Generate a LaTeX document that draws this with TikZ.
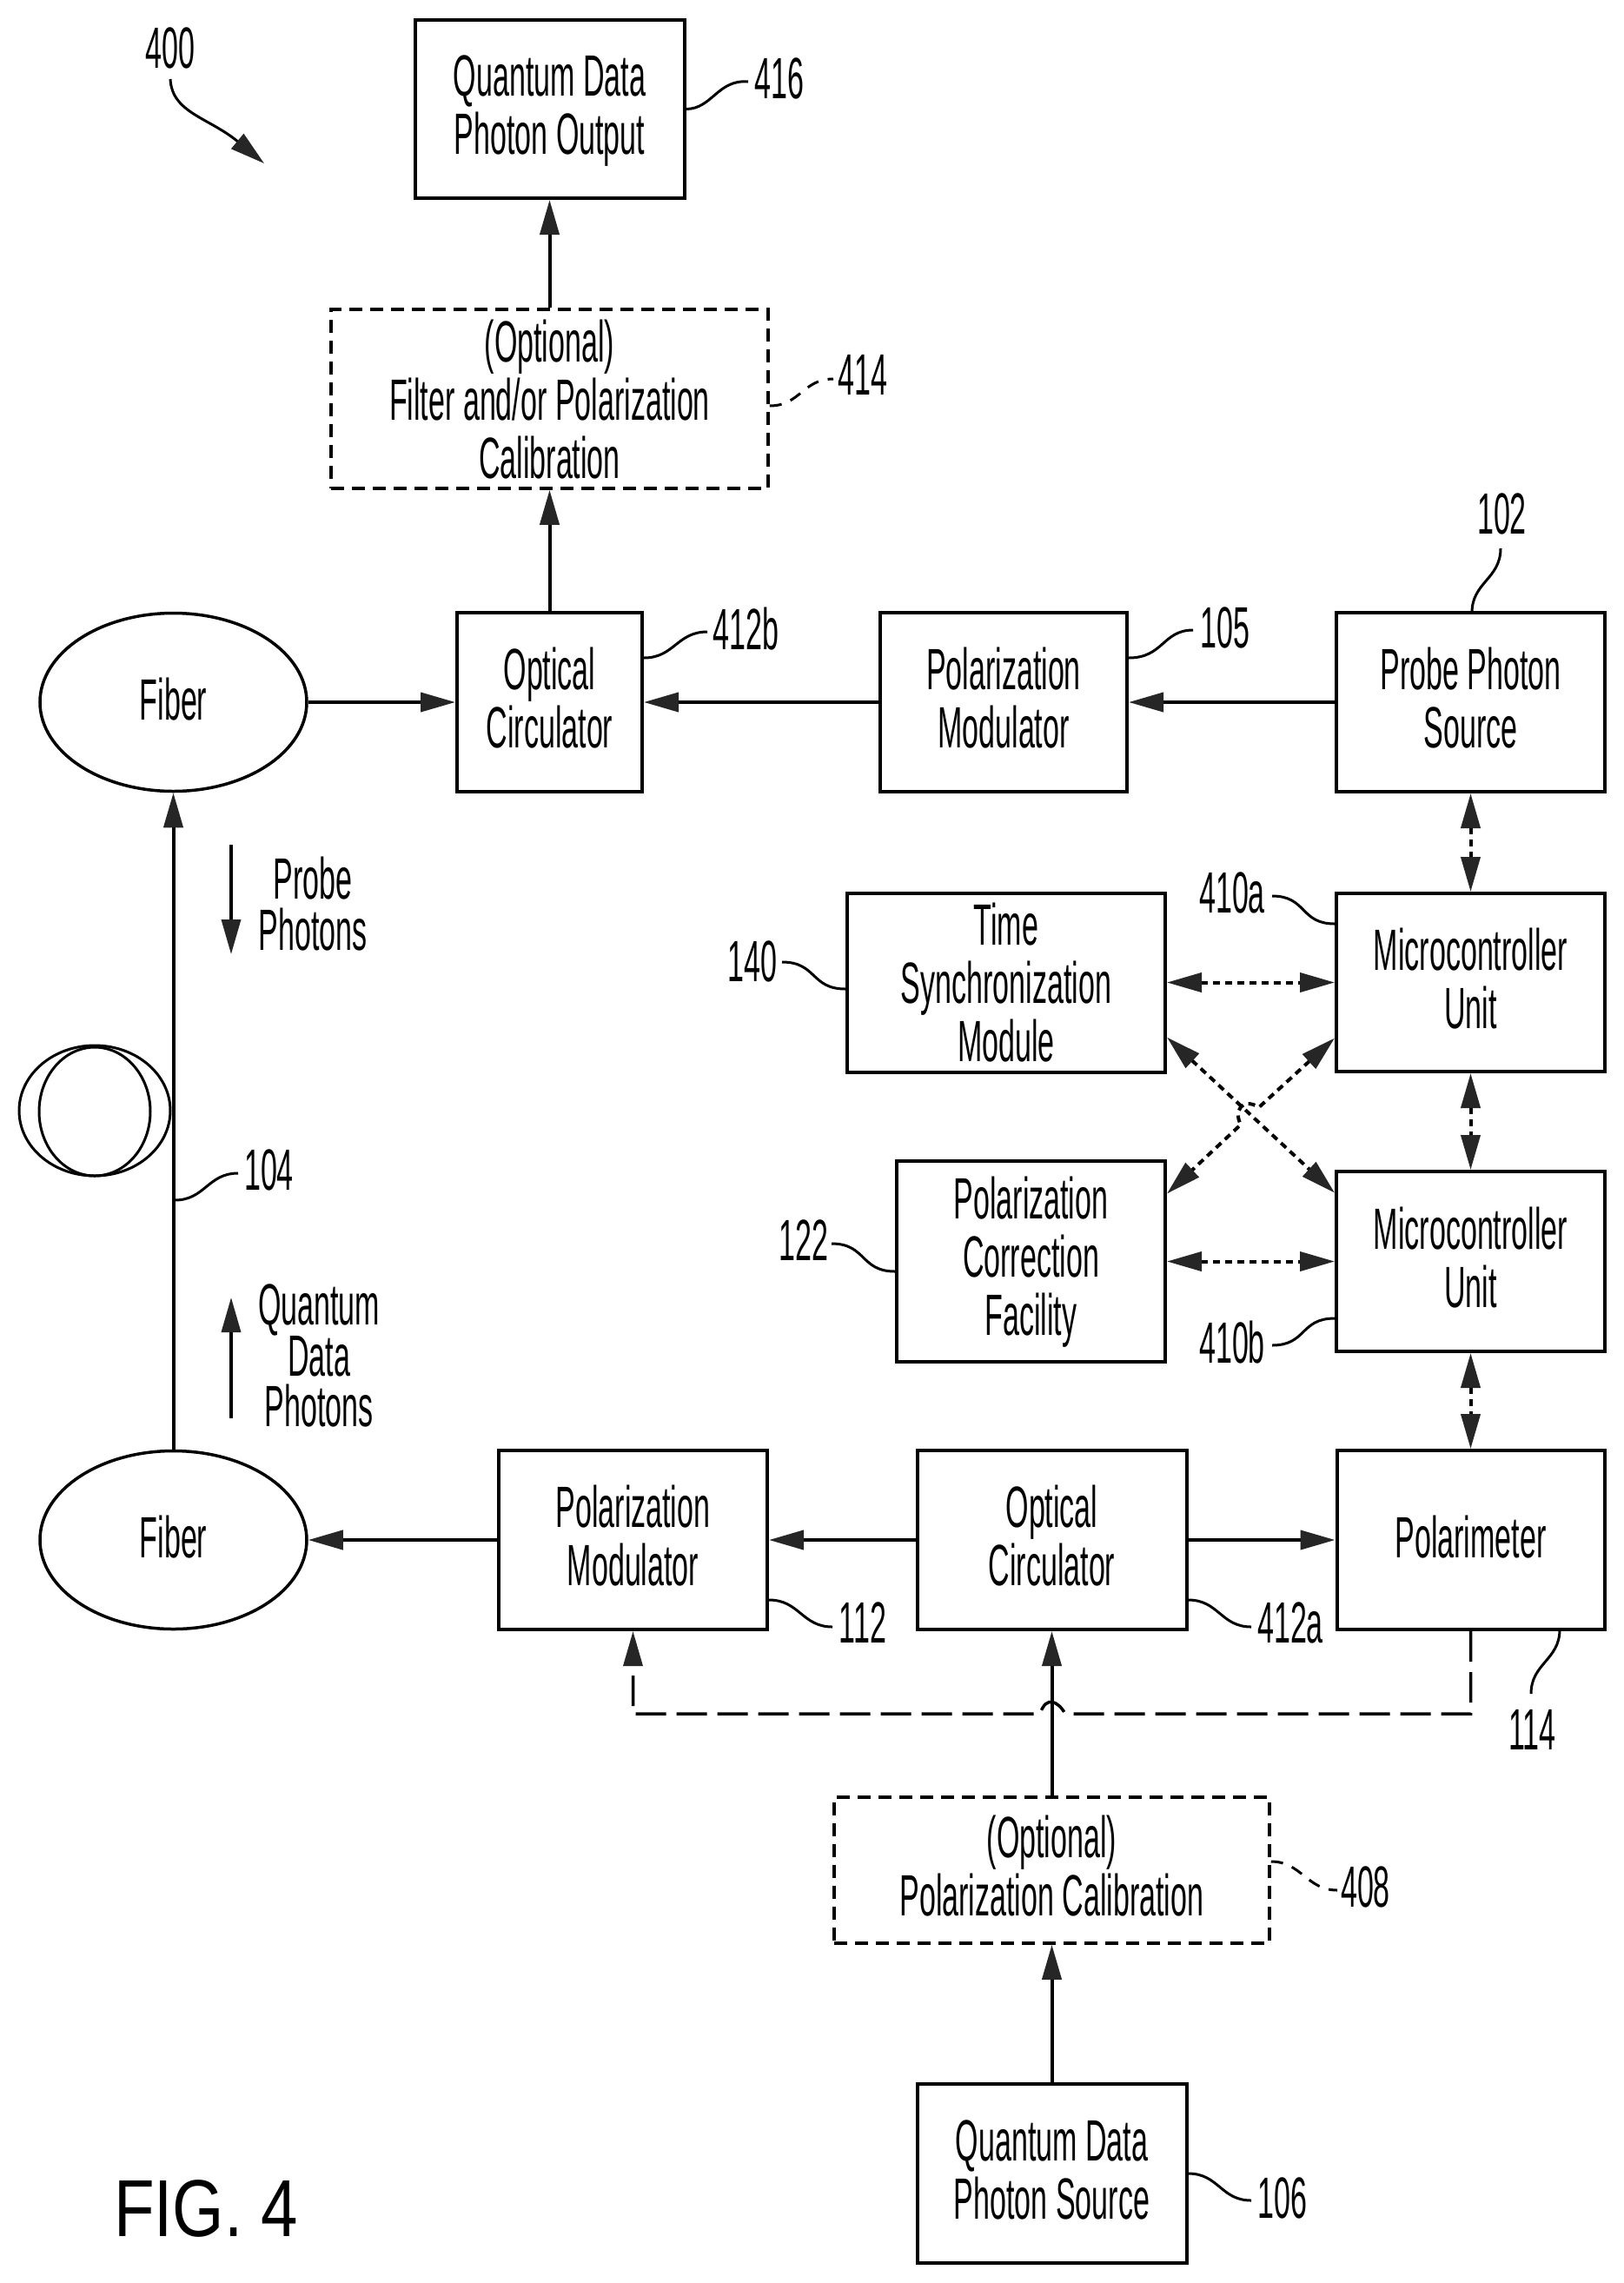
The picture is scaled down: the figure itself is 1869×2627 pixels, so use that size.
\documentclass[tikz,border=0pt]{standalone}
\usepackage{fontspec}
\usetikzlibrary{arrows.meta,shapes.geometric,calc}
\setmainfont{Liberation Sans}
\newfontfamily\condfont[FakeStretch=0.508]{Liberation Sans}
\newfontfamily\figfont[FakeStretch=0.82]{Liberation Sans}
\newcommand{\topst}{\rule{0pt}{50pt}}
\newcommand{\topsx}{\rule{0pt}{60pt}}
\newcommand{\botst}{\rule[-12pt]{0pt}{12pt}}
\newcommand{\onest}{\rule[-14pt]{0pt}{68pt}}
\tikzset{
  txt/.style={font=\fontsize{67}{67}\selectfont\condfont,align=center,inner sep=0pt},
  box/.style={txt,draw,rectangle,line width=4pt,inner sep=0pt},
  dbox/.style={box,line width=3.5pt,dash pattern=on 15pt off 9pt},
  fib/.style={txt,draw,ellipse,line width=3.5pt,minimum width=307pt,minimum height=205pt},
  lbl/.style={txt},
  tipa/.tip={Triangle[length=40pt,width=22pt,fill=black!85,color=black!85]},
  arr/.style={-tipa,line width=4pt},
  dbl/.style={tipa-tipa,line width=4pt,dash pattern=on 8pt off 6pt},
  fb/.style={-tipa,line width=3.5pt,dash pattern=on 35pt off 12pt},
  lead/.style={line width=3pt},
  dlead/.style={line width=3pt,dash pattern=on 14pt off 11pt},
  coil/.style={line width=3pt}
}
\begin{document}
\begin{tikzpicture}[x=1pt,y=-1pt]
\path[fill=white,use as bounding box] (0,0) rectangle (1869,2627);

% boxes
\node[box,minimum width=310pt,minimum height=205pt] (qout) at (632.5,125.5) {\topst Quantum Data\\Photon Output\botst};
\node[dbox,minimum width=503pt,minimum height=206pt] (filt) at (632.5,459) {\topsx (Optional)\\Filter and/or Polarization\\Calibration\botst};
\node[box,minimum width=213pt,minimum height=206pt] (circb) at (632.5,808) {\topst Optical\\Circulator\botst};
\node[box,minimum width=284pt,minimum height=206pt] (modt) at (1155,808) {\topst Polarization\\Modulator\botst};
\node[box,minimum width=309pt,minimum height=206pt] (probe) at (1692.5,808) {\topst Probe Photon\\Source\botst};
\node[fib] (fibt) at (199.5,808) {\onest Fiber};
\node[box,minimum width=366pt,minimum height=205pt] (time) at (1158,1130.5) {\topsx Time\\Synchronization\\Module\botst};
\node[box,minimum width=309pt,minimum height=205pt] (mcua) at (1692.5,1130.5) {\topst Microcontroller\\Unit\botst};
\node[box,minimum width=309pt,minimum height=231pt] (pcf) at (1186.5,1451.5) {\topst Polarization\\Correction\\Facility\botst};
\node[box,minimum width=309pt,minimum height=207pt] (mcub) at (1692.5,1451.5) {\topst Microcontroller\\Unit\botst};
\node[fib] (fibl) at (199.5,1772) {\onest Fiber};
\node[box,minimum width=309pt,minimum height=206pt] (modl) at (728.5,1772) {\topst Polarization\\Modulator\botst};
\node[box,minimum width=310pt,minimum height=206pt] (circa) at (1210.5,1772) {\topst Optical\\Circulator\botst};
\node[box,minimum width=308pt,minimum height=206pt] (polm) at (1692.5,1772) {\onest Polarimeter};
\node[dbox,minimum width=501pt,minimum height=168pt] (pcal) at (1210.5,2152) {\topst (Optional)\\Polarization Calibration\botst};
\node[box,minimum width=310pt,minimum height=206pt] (qsrc) at (1210.5,2501) {\topst Quantum Data\\Photon Source\botst};

% coil
\node[coil,draw,ellipse,inner sep=0pt,minimum width=174pt,minimum height=150pt] (coilo) at (109,1278) {};
\node[coil,draw,ellipse,inner sep=0pt,minimum width=128pt,minimum height=148pt] (coili) at (109,1279) {};

% solid connectors
\draw[arr] (filt.north) -- (qout.south);
\draw[arr] (circb.north) -- (filt.south);
\draw[arr] (fibt.east) -- (circb.west);
\draw[arr] (modt.west) -- (circb.east);
\draw[arr] (probe.west) -- (modt.east);
\draw[arr] (fibl.north) -- (fibt.south);
\draw[arr] (modl.west) -- (fibl.east);
\draw[arr] (circa.west) -- (modl.east);
\draw[arr] (circa.east) -- (polm.west);
\draw[arr] (pcal.north) -- (circa.south);
\draw[arr] (qsrc.north) -- (pcal.south);

% dashed double arrows
\draw[dbl] (probe.south) -- (mcua.north);
\draw[dbl] (mcua.south) -- (mcub.north);
\draw[dbl] (mcub.south) -- (polm.north);
\draw[dbl] (time.east) -- (mcua.west);
\draw[dbl] (pcf.east) -- (mcub.west);
\draw[dbl] ([yshift=-63pt]time.east) -- ([yshift=79pt]mcub.west);
\coordinate (hopa) at (1449,1274);
\coordinate (hopb) at (1428,1294);
\draw[dbl] ([yshift=-64pt]mcua.west) -- (hopa) .. controls (1428,1262) and (1420,1280) .. (hopb) -- ([yshift=78pt]pcf.east);

% feedback with hop
\coordinate (fbr) at (polm.south |- 0,1972);
\coordinate (fbl) at (modl.south |- 0,1972);
\coordinate (hopr) at (1226,1972);
\coordinate (hopl) at (1197,1972);
\draw[fb] (polm.south) -- (fbr) -- (hopr) .. controls (1218,1958) and (1204,1950) .. (hopl) -- (fbl) -- (modl.south);

% flow arrows
\coordinate (pa) at (266,972);
\coordinate (pb) at (266,1098);
\coordinate (qa) at (266,1632);
\coordinate (qb) at (266,1493);
\draw[-tipa,line width=3.5pt] (pa) -- (pb);
\draw[-tipa,line width=3.5pt] (qa) -- (qb);
\node[txt,font=\fontsize{67}{59}\selectfont\condfont] (ptxt) at (360,1040) {Probe\\Photons};
\node[txt,font=\fontsize{67}{58}\selectfont\condfont] (qtxt) at (367,1560) {Quantum\\Data\\Photons};

% reference numbers
\node[lbl] (l400) at (196,55) {400};
\coordinate (t400) at (196,91);
\coordinate (h400) at (304,188);
\draw[-tipa,line width=3pt] (t400) .. controls (198,130) and (240,135) .. (h400);
\node[lbl] (l416) at (897,90) {416};
\coordinate (e416) at (861,94);
\draw[lead] (qout.east) .. controls +(30,0) and +(-35,-3) .. (e416);
\node[lbl] (l414) at (993,431.5) {414};
\coordinate (e414) at (959,436);
\draw[dlead] ([yshift=-8pt]filt.east) .. controls +(35,0) and +(-35,0) .. (e414);
\node[lbl] (l412b) at (858.5,724) {412b};
\coordinate (e412b) at (814,727);
\draw[lead] ([yshift=51pt]circb.east) .. controls +(35,0) and +(-35,0) .. (e412b);
\node[lbl] (l105) at (1410,722) {105};
\coordinate (e105) at (1373,725);
\draw[lead] ([yshift=51pt]modt.east) .. controls +(40,0) and +(-35,0) .. (e105);
\node[lbl] (l102) at (1728.5,591) {102};
\coordinate (e102) at (1727,631);
\coordinate (s102) at (1694,705);
\draw[lead] (s102) .. controls +(0,-35) and +(0,35) .. (e102);
\node[lbl] (l140) at (866,1106) {140};
\coordinate (e140) at (900,1107);
\draw[lead] (e140) .. controls +(40,0) and +(-40,0) .. ([yshift=-7.5pt]time.west);
\node[lbl] (l122) at (925,1427) {122};
\coordinate (e122) at (957,1431);
\draw[lead] (e122) .. controls +(40,0) and +(-40,0) .. ([yshift=-11.5pt]pcf.west);
\node[lbl] (l410a) at (1418,1027) {410a};
\coordinate (e410a) at (1464,1031);
\draw[lead] (e410a) .. controls +(40,0) and +(-40,0) .. ([yshift=67.5pt]mcua.west);
\node[lbl] (l410b) at (1418,1545) {410b};
\coordinate (e410b) at (1464,1548);
\draw[lead] (e410b) .. controls +(40,0) and +(-40,0) .. ([yshift=-65.5pt]mcub.west);
\node[lbl] (l112) at (993,1867) {112};
\coordinate (e112) at (958,1872);
\draw[lead] ([yshift=-69pt]modl.east) .. controls +(35,0) and +(-35,0) .. (e112);
\node[lbl] (l412a) at (1485,1867) {412a};
\coordinate (e412a) at (1440,1872);
\draw[lead] ([yshift=-69pt]circa.east) .. controls +(35,0) and +(-35,0) .. (e412a);
\node[lbl] (l114) at (1763.5,1990) {114};
\coordinate (s114) at (1795,1875);
\coordinate (e114) at (1762,1949);
\draw[lead] (s114) .. controls +(0,35) and +(0,-35) .. (e114);
\node[lbl] (l408) at (1571.5,2171) {408};
\coordinate (e408) at (1539,2175);
\draw[dlead] ([yshift=10pt]pcal.east) .. controls +(35,0) and +(-35,0) .. (e408);
\node[lbl] (l106) at (1476,2529) {106};
\coordinate (e106) at (1440,2532);
\draw[lead] (qsrc.east) .. controls +(35,0) and +(-35,0) .. (e106);
\node[lbl] (l104) at (309.5,1346) {104};
\coordinate (s104) at (201,1381);
\coordinate (e104) at (274,1350);
\draw[lead] (s104) .. controls +(35,0) and +(-35,0) .. (e104);

% figure caption
\node[inner sep=0pt,anchor=base west,font=\fontsize{93}{93}\selectfont\figfont] (figl) at (131,2573) {FIG. 4};
\end{tikzpicture}
\end{document}
